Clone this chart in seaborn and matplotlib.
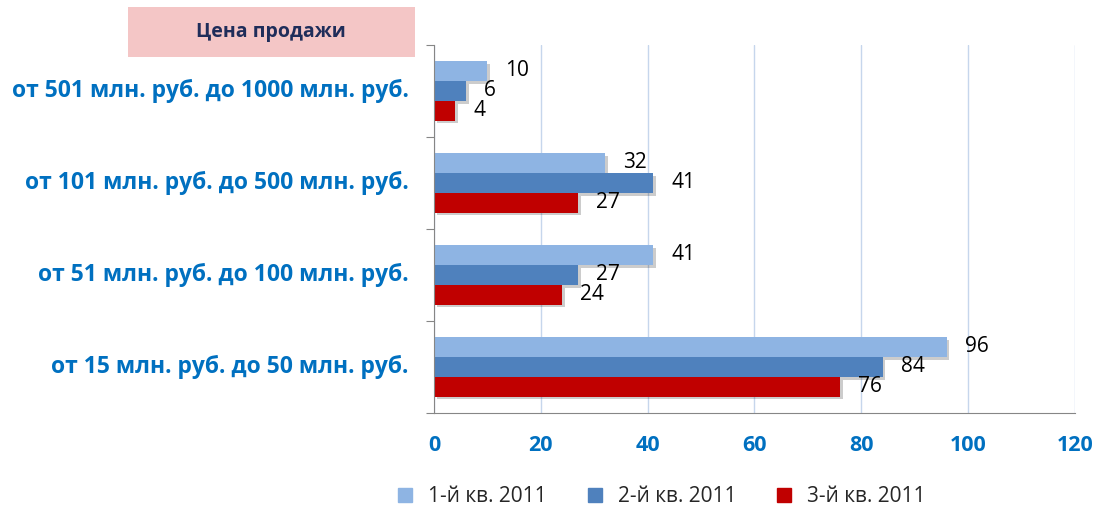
import pandas as pd
import seaborn as sns
import matplotlib.pyplot as plt
import matplotlib.patheffects as pe
from matplotlib.patches import Rectangle

categories = [
    'от 501 млн. руб. до 1000 млн. руб.',
    'от 101 млн. руб. до 500 млн. руб.',
    'от 51 млн. руб. до 100 млн. руб.',
    'от 15 млн. руб. до 50 млн. руб.',
]
series = ['1-й кв. 2011', '2-й кв. 2011', '3-й кв. 2011']
q1 = [10, 32, 41, 96]
q2 = [6, 41, 27, 84]
q3 = [4, 27, 24, 76]
colors = ['#8EB4E3', '#4F81BD', '#C00000']
x_ticks = [0, 20, 40, 60, 80, 100, 120]

rows = []
for s, vals in zip(series, [q1, q2, q3]):
    for c, v in zip(categories, vals):
        rows.append({'Категория': c, 'Квартал': s, 'Значение': v})
df = pd.DataFrame(rows)

sns.set_style('white')
plt.rcParams['font.family'] = ['Open Sans', 'DejaVu Sans']

fig = plt.figure(figsize=(10.99, 5.09), dpi=100)
ax = fig.add_axes([0.395, 0.189, 0.583, 0.723])

sns.barplot(data=df, y='Категория', x='Значение', hue='Квартал',
            order=categories, hue_order=series, palette=colors,
            orient='h', width=0.65, saturation=1, legend=False, ax=ax)

shadow = [pe.SimplePatchShadow(offset=(2, -2), shadow_rgbFace='black', alpha=0.2),
          pe.Normal()]
for cont in ax.containers:
    for bar in cont:
        bar.set_linewidth(0)
        bar.set_path_effects(shadow)
    ax.bar_label(cont, padding=13, fontsize=15, color='black')

ax.set_xlim(0, 120)
ax.set_xticks(x_ticks)
ax.set_ylim(3.5, -0.5)
ax.set_yticks([-0.5, 0.5, 1.5, 2.5, 3.5])
ax.set_yticklabels([])
for i, c in enumerate(categories):
    ax.text(-0.04, i, c, transform=ax.get_yaxis_transform(), ha='right', va='center',
            fontsize=16.5, fontweight='bold', color='#0070C0')

ax.set_xlabel('')
ax.set_ylabel('')
ax.grid(axis='x', color='#C6D6EC', linewidth=1)
ax.set_axisbelow(True)
for side in ['top', 'right']:
    ax.spines[side].set_visible(False)
for side in ['left', 'bottom']:
    ax.spines[side].set_color('#868686')
ax.tick_params(axis='x', colors='#0070C0', labelsize=15.5, length=6, direction='out',
               color='#868686', pad=10)
ax.tick_params(axis='y', length=6, direction='out', color='#868686', left=True)
for lbl in ax.get_xticklabels():
    lbl.set_fontweight('bold')

# заголовок в розовой рамке
fig.patches.append(Rectangle((128 / 1099, 1 - 57 / 509), 287 / 1099, 50 / 509,
                             transform=fig.transFigure, facecolor='#F4C6C6',
                             edgecolor='none'))
fig.text(271 / 1099, 1 - 32 / 509, 'Цена продажи', ha='center', va='center',
         fontsize=14, fontweight='bold', color='#1F2D5A')

handles = [plt.Line2D([], [], marker='s', linestyle='', markersize=10,
                      markerfacecolor=c, markeredgecolor=c) for c in colors]
fig.legend(handles, series, loc='center', bbox_to_anchor=(0.596, 0.024), ncol=3,
           frameon=False, fontsize=15, handletextpad=0.1, columnspacing=1.3)

plt.savefig('out.png', dpi=100)
